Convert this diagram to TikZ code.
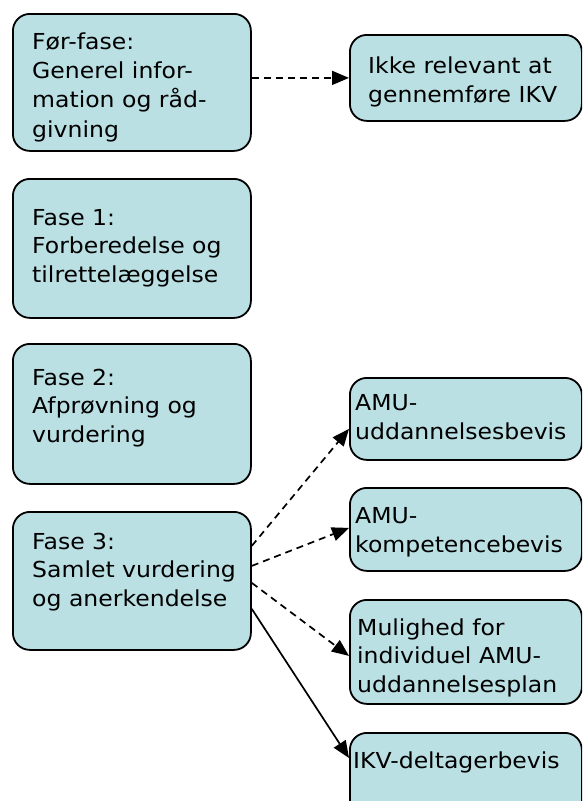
\documentclass[tikz,border=0pt]{standalone}
\usepackage{fontspec}
\setmainfont{DejaVu Sans}[FakeStretch=1.07]
\usetikzlibrary{arrows.meta}
\definecolor{boxfill}{RGB}{186,224,228}
\tikzset{
  box/.style={draw=black, line width=1.8pt, fill=boxfill, rounded corners=17pt,
    minimum width=238pt, anchor=north west, inner sep=0pt},
  rbox/.style={box, minimum width=232pt},
  txt/.style={anchor=base west, align=left, inner sep=0pt,
    font=\fontsize{22}{28.5}\selectfont},
  conn/.style={line width=1.7pt, -{Triangle[length=17pt,width=14pt]}},
  dashconn/.style={conn, dash pattern=on 7pt off 5pt},
}
\begin{document}
\begin{tikzpicture}[x=1pt,y=-1pt]
\useasboundingbox (0,0) rectangle (582,801);
\clip (0,0) rectangle (582,801);
% left column
\node[box, minimum height=137pt] (b0) at (12,13) {};
\node[box, minimum height=139pt] (b1) at (12,178) {};
\node[box, minimum height=140pt] (b2) at (12,343) {};
\node[box, minimum height=138pt] (b3) at (12,511) {};
% right column
\node[rbox, minimum height=86pt] (r0) at (349,34) {};
\node[rbox, minimum height=82pt] (r1) at (349,377) {};
\node[rbox, minimum height=83pt] (r2) at (349,487) {};
\node[rbox, minimum height=104pt] (r3) at (349,599) {};
\node[rbox, minimum height=90pt] (r4) at (349,732) {};
% texts (base = last line's baseline)
\node[txt, font=\fontsize{22}{29.3}\selectfont] (t0) at ([xshift=20pt,yshift=-124pt]b0.north west) {Før-fase:\\Generel infor-\\mation og råd-\\givning};
\node[txt] (t1) at ([xshift=20pt,yshift=-104pt]b1.north west) {Fase 1:\\Forberedelse og\\tilrettelæggelse};
\node[txt] (t2) at ([xshift=20pt,yshift=-99pt]b2.north west) {Fase 2:\\Afprøvning og\\vurdering};
\node[txt] (t3) at ([xshift=20pt,yshift=-95pt]b3.north west) {Fase 3:\\Samlet vurdering\\og anerkendelse};
\node[txt] (t4) at ([xshift=19pt,yshift=-68pt]r0.north west) {Ikke relevant at\\gennemføre IKV};
\node[txt] (t5) at ([xshift=6pt,yshift=-62pt]r1.north west) {AMU-\\uddannelsesbevis};
\node[txt] (t6) at ([xshift=6pt,yshift=-65pt]r2.north west) {AMU-\\kompetencebevis};
\node[txt] (t7) at ([xshift=8pt,yshift=-93pt]r3.north west) {Mulighed for\\individuel AMU-\\uddannelsesplan};
\node[txt] (t8) at ([xshift=4pt,yshift=-36pt]r4.north west) {IKV-deltagerbevis};
% connectors
\draw[dashconn] ([yshift=4.5pt]b0.east) -- (r0.west);
\draw[dashconn] ([yshift=35pt]b3.east) -- ([yshift=-10pt]r1.west);
\draw[dashconn] ([yshift=15pt]b3.east) -- ([yshift=1.5pt]r2.west);
\draw[dashconn] ([yshift=-2pt]b3.east) -- ([yshift=-4pt]r3.west);
\draw[conn] ([yshift=-28pt]b3.east) -- ([yshift=-26pt]r4.north west);
\end{tikzpicture}
\end{document}
